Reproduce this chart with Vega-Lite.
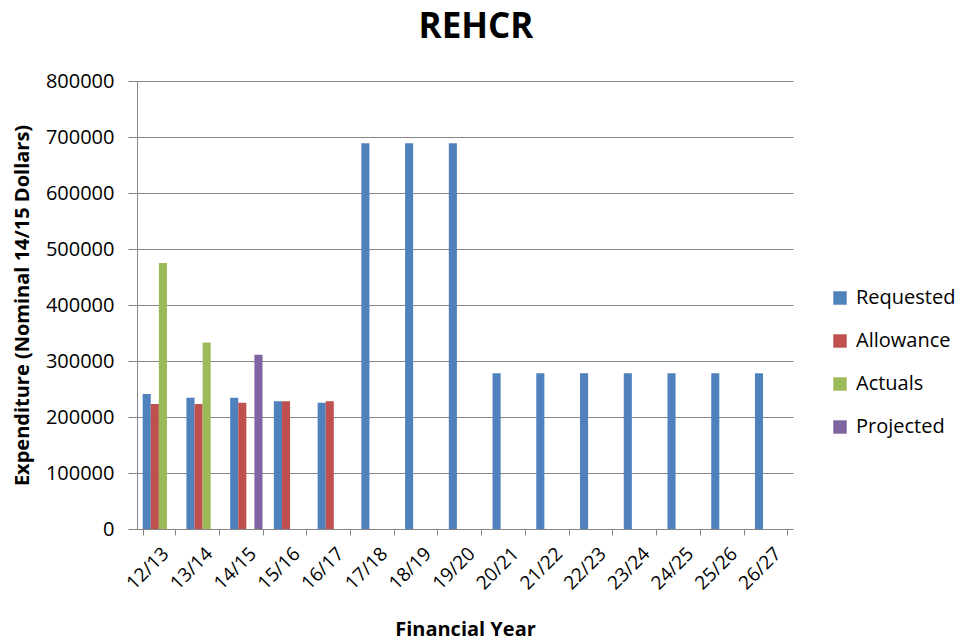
{
  "$schema": "https://vega.github.io/schema/vega-lite/v6.json",
  "width": 656,
  "height": 448,
  "autosize": {"type": "none"},
  "padding": {"left": 137, "top": 81, "right": 162, "bottom": 111},
  "background": "white",
  "title": {
    "text": "REHCR",
    "font": "Open Sans",
    "fontSize": 35,
    "fontWeight": "bold",
    "color": "#000000",
    "anchor": "middle",
    "dx": 11,
    "offset": 26
  },
  "config": {
    "view": {"stroke": null},
    "font": "Open Sans"
  },
  "data": {
    "values": [
      {"year": "12/13", "series": "Requested", "value": 241000},
      {"year": "12/13", "series": "Allowance", "value": 223000},
      {"year": "12/13", "series": "Actuals", "value": 475000},
      {"year": "13/14", "series": "Requested", "value": 234500},
      {"year": "13/14", "series": "Allowance", "value": 223000},
      {"year": "13/14", "series": "Actuals", "value": 333000},
      {"year": "14/15", "series": "Requested", "value": 234500},
      {"year": "14/15", "series": "Allowance", "value": 225500},
      {"year": "14/15", "series": "Projected", "value": 311000},
      {"year": "15/16", "series": "Requested", "value": 228000},
      {"year": "15/16", "series": "Allowance", "value": 228000},
      {"year": "16/17", "series": "Requested", "value": 225500},
      {"year": "16/17", "series": "Allowance", "value": 228000},
      {"year": "17/18", "series": "Requested", "value": 689000},
      {"year": "18/19", "series": "Requested", "value": 689000},
      {"year": "19/20", "series": "Requested", "value": 689000},
      {"year": "20/21", "series": "Requested", "value": 278000},
      {"year": "21/22", "series": "Requested", "value": 278000},
      {"year": "22/23", "series": "Requested", "value": 278000},
      {"year": "23/24", "series": "Requested", "value": 278000},
      {"year": "24/25", "series": "Requested", "value": 278000},
      {"year": "25/26", "series": "Requested", "value": 278000},
      {"year": "26/27", "series": "Requested", "value": 278000}
    ]
  },
  "mark": {"type": "bar"},
  "encoding": {
    "x": {
      "field": "year",
      "type": "nominal",
      "sort": null,
      "scale": {"paddingInner": 0.26, "paddingOuter": 0.13},
      "axis": {
        "title": "Financial Year",
        "titleFont": "Open Sans",
        "titleFontSize": 20,
        "titleFontWeight": "bold",
        "titleColor": "#000000",
        "titleY": 106,
        "titleBaseline": "alphabetic",
        "labelAngle": -45,
        "labelFont": "Open Sans",
        "labelFontSize": 19,
        "labelColor": "#000000",
        "labelPadding": 9,
        "tickBand": "extent",
        "tickSize": 6,
        "tickColor": "#868686",
        "domainColor": "#868686",
        "grid": false
      }
    },
    "xOffset": {
      "field": "series",
      "type": "nominal",
      "scale": {"domain": ["Requested", "Allowance", "Actuals", "Projected"], "paddingInner": 0, "paddingOuter": 0}
    },
    "y": {
      "field": "value",
      "type": "quantitative",
      "scale": {"domain": [0, 800000], "nice": false},
      "axis": {
        "title": "Expenditure (Nominal 14/15 Dollars)",
        "titleFont": "Open Sans",
        "titleFontSize": 20,
        "titleFontWeight": "bold",
        "titleColor": "#000000",
        "titleX": -115,
        "titleBaseline": "middle",
        "values": [0, 100000, 200000, 300000, 400000, 500000, 600000, 700000, 800000],
        "format": "d",
        "labelFont": "Open Sans",
        "labelFontSize": 20,
        "labelColor": "#000000",
        "labelPadding": 14,
        "tickSize": 9,
        "tickColor": "#868686",
        "domainColor": "#868686",
        "gridColor": "#868686",
        "gridWidth": 1
      }
    },
    "color": {
      "field": "series",
      "type": "nominal",
      "scale": {
        "domain": ["Requested", "Allowance", "Actuals", "Projected"],
        "range": ["#4F81BD", "#C0504D", "#9BBB59", "#8064A2"]
      },
      "legend": {
        "title": null,
        "orient": "none",
        "legendX": 693,
        "legendY": 207,
        "symbolType": "square",
        "symbolSize": 180,
        "symbolStrokeWidth": 0,
        "labelFont": "Open Sans",
        "labelFontSize": 20,
        "labelColor": "#000000",
        "labelOffset": 6,
        "rowPadding": 23
      }
    }
  }
}
